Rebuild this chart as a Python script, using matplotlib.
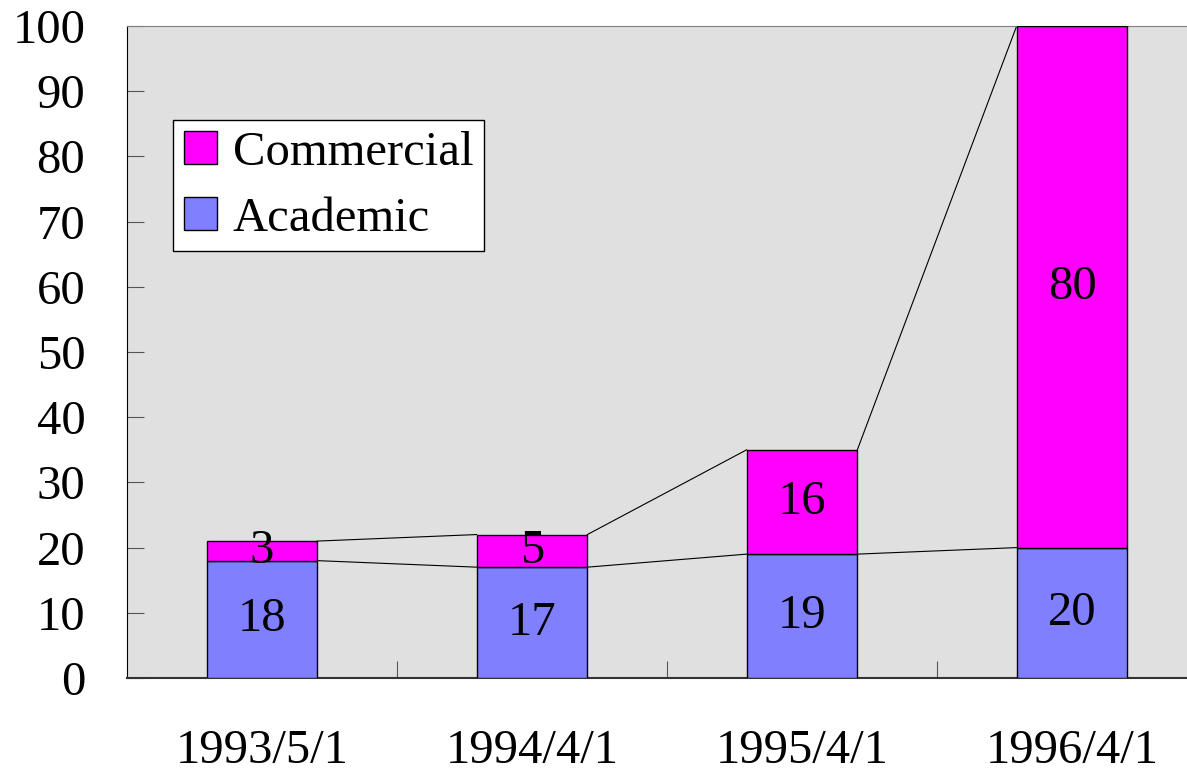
import numpy as np
import matplotlib
matplotlib.use('Agg')
import matplotlib.pyplot as plt
from matplotlib.patches import Patch

# data
dates = ['1993/5/1', '1994/4/1', '1995/4/1', '1996/4/1']
academic = [18, 17, 19, 20]
commercial = [3, 5, 16, 80]

plt.rcParams['font.family'] = ['Liberation Serif', 'DejaVu Serif']

fig = plt.figure(figsize=(11.87, 7.75), dpi=100)
# plot area runs off the right edge like the original
ax = fig.add_axes([127 / 1187, 97 / 775, 1080 / 1187, 652 / 775])
ax.set_facecolor('#e0e0e0')

x = np.arange(len(dates))
w = 0.41
acad = np.array(academic)
comm = np.array(commercial)
top = acad + comm

ax.bar(x, acad, w, color='#8080ff', edgecolor='black', linewidth=1, zorder=3)
ax.bar(x, comm, w, bottom=acad, color='#ff00ff', edgecolor='black', linewidth=1, zorder=3)

# series lines between the bars
for lev in (acad, top):
    for i in range(len(x) - 1):
        ax.plot([x[i] + w / 2, x[i + 1] - w / 2], [lev[i], lev[i + 1]],
                color='black', linewidth=0.8, zorder=2)

for i in range(len(x)):
    ax.text(x[i], acad[i] / 2, str(academic[i]), ha='center', va='center',
            fontsize=35, zorder=4)
    ax.text(x[i], acad[i] + comm[i] / 2, str(commercial[i]), ha='center', va='center',
            fontsize=35, zorder=4)

ax.set_xlim(-0.5, 3.5)
ax.set_ylim(0, 100)
ax.set_yticks(np.arange(0, 101, 10))
ax.tick_params(axis='y', direction='in', length=12, color='#555555', labelsize=35, pad=30)

# category boundary ticks, labels in the middle
ax.set_xticks(np.arange(0.5, 3.5, 1))
ax.set_xticklabels([])
ax.set_xticks(x, minor=True)
ax.set_xticklabels(dates, minor=True)
ax.tick_params(axis='x', which='major', direction='in', length=12, color='#555555')
ax.tick_params(axis='x', which='minor', length=0, labelsize=35, pad=37)

ax.spines['top'].set_color('#808080')
ax.spines['right'].set_visible(False)
ax.spines['left'].set_color('black')
ax.spines['bottom'].set_color('#333333')
ax.spines['bottom'].set_linewidth(1.5)

handles = [Patch(facecolor='#ff00ff', edgecolor='black', label='Commercial'),
           Patch(facecolor='#8080ff', edgecolor='black', label='Academic')]
leg = ax.legend(handles=handles, loc='upper left', bbox_to_anchor=(46 / 1080, 558 / 652),
                fontsize=35, frameon=True, fancybox=False, edgecolor='black',
                framealpha=1, handlelength=0.68, handleheight=0.68, handletextpad=0.33,
                borderpad=0.22, labelspacing=0.45, borderaxespad=0)
leg.get_frame().set_linewidth(1)

fig.savefig('out.png', dpi=100)
